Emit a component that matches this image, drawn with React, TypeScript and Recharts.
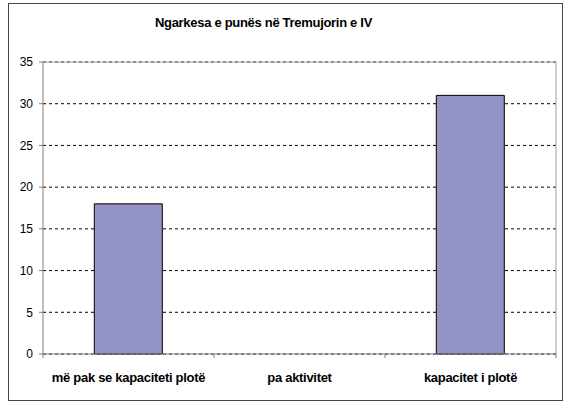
import { BarChart, Bar, XAxis, YAxis, CartesianGrid } from 'recharts';

const categories = ['më pak se kapaciteti plotë', 'pa aktivitet', 'kapacitet i plotë'];
const values = [18, 0, 31];
const yTicks = [0, 5, 10, 15, 20, 25, 30, 35];

const data = categories.map((name, i) => ({ name, value: values[i] }));

const W = 566;
const H = 403;
const margin = { top: 62, right: 10, bottom: 19, left: 0 };
const xAxisHeight = 30;
const yAxisWidth = 43;
const bandWidth = (W - margin.left - margin.right - yAxisWidth) / categories.length;
const font = '"Liberation Sans", Arial, sans-serif';

function CategoryTick(props: any) {
    const { x, y, payload, index } = props;
    const left = x - bandWidth / 2;
    const right = x + bandWidth / 2;
    return (
        <g>
            <line x1={left} x2={left} y1={y} y2={y + 4} stroke="#808080" />
            {index === categories.length - 1 && (
                <line x1={right} x2={right} y1={y} y2={y + 4} stroke="#808080" />
            )}
            <text
                x={x}
                y={y + 28}
                textAnchor="middle"
                fill="#000"
                fontFamily={font}
                fontSize={13}
                fontWeight="bold"
                letterSpacing={-0.3}
            >
                {payload.value}
            </text>
        </g>
    );
}

export default function App() {
    return (
        <div style={{ position: 'absolute', left: 0, top: 0, width: W, height: H, background: '#fff' }}>
            <div
                style={{
                    position: 'absolute',
                    left: 8,
                    top: 3,
                    width: 555,
                    height: 398,
                    boxSizing: 'border-box',
                    border: '1px solid #444',
                }}
            />
            <div
                style={{
                    position: 'absolute',
                    left: 0,
                    top: 15,
                    width: 527,
                    textAlign: 'center',
                    fontFamily: font,
                    fontSize: 13,
                    fontWeight: 'bold',
                    letterSpacing: -0.3,
                    lineHeight: '16px',
                }}
            >
                Ngarkesa e punës në Tremujorin e IV
            </div>
            <div style={{ position: 'absolute', left: 0, top: 0 }}>
                <BarChart width={W} height={H} data={data} margin={margin} barCategoryGap="30%">
                    <CartesianGrid vertical={false} stroke="#000" strokeDasharray="3 3" />
                    <CartesianGrid
                        stroke="#a0a0a0"
                        horizontalCoordinatesGenerator={({ offset }: any) => [offset.top]}
                        verticalCoordinatesGenerator={({ offset }: any) => [offset.left + offset.width]}
                    />
                    <XAxis
                        dataKey="name"
                        height={xAxisHeight}
                        axisLine={{ stroke: '#808080' }}
                        tickLine={false}
                        tickSize={0}
                        tickMargin={0}
                        interval={0}
                        tick={<CategoryTick />}
                    />
                    <YAxis
                        width={yAxisWidth}
                        domain={[0, 35]}
                        ticks={yTicks}
                        interval={0}
                        axisLine={{ stroke: '#808080' }}
                        tickLine={{ stroke: '#808080' }}
                        tickSize={4}
                        tickMargin={6}
                        tick={{ fill: '#000', fontSize: 12, fontFamily: font }}
                    />
                    <Bar
                        dataKey="value"
                        fill="#9393c6"
                        stroke="#000"
                        strokeWidth={1}
                        isAnimationActive={false}
                    />
                </BarChart>
            </div>
        </div>
    );
}
